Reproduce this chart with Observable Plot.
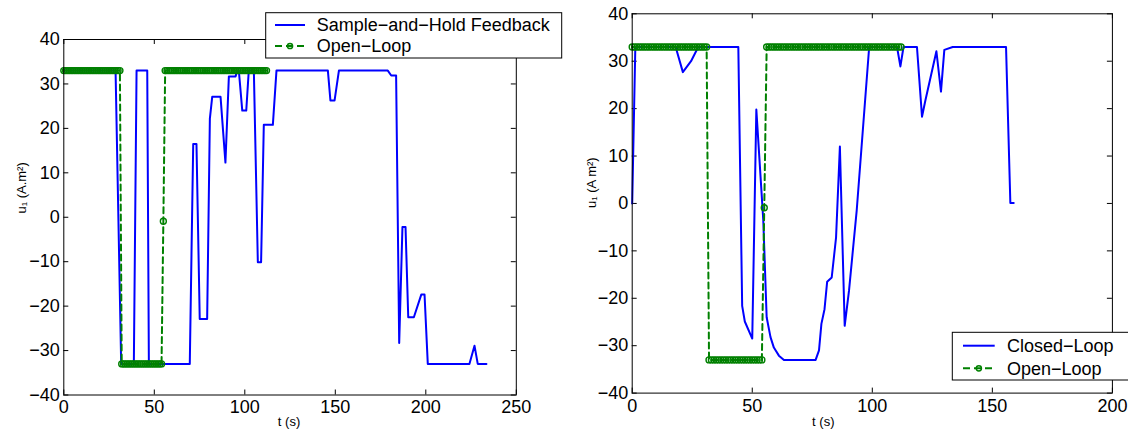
<!DOCTYPE html>
<html><head><meta charset="utf-8">
<script src="https://cdn.jsdelivr.net/npm/d3@7"></script>
<script src="https://cdn.jsdelivr.net/npm/@observablehq/plot@0.6"></script>
<style>
html,body{margin:0;padding:0;background:#fff;}
#wrap{position:relative;width:1128px;height:431px;overflow:hidden;}
#wrap svg{position:absolute;top:0;}
</style></head><body><div id="wrap"></div>
<script>
// ---------- data ----------
// Open-loop control (same in both panels), sampled every second
const olT = [0,1,2,3,4,5,6,7,8,9,10,11,12,13,14,15,16,17,18,19,20,21,22,23,24,25,26,27,28,29,30,31,32,33,34,35,36,37,38,39,40,41,42,43,44,45,46,47,48,49,50,51,52,53,54,55,56,57,58,59,60,61,62,63,64,65,66,67,68,69,70,71,72,73,74,75,76,77,78,79,80,81,82,83,84,85,86,87,88,89,90,91,92,93,94,95,96,97,98,99,100,101,102,103,104,105,106,107,108,109,110,111,112];
const olU = [
  33,33,33,33,33,33,33,33,33,33,
  33,33,33,33,33,33,33,33,33,33,
  33,33,33,33,33,33,33,33,33,33,
  33,33,-33,-33,-33,-33,-33,-33,-33,-33,
  -33,-33,-33,-33,-33,-33,-33,-33,-33,-33,
  -33,-33,-33,-33,-33,-0.9,33,33,33,33,
  33,33,33,33,33,33,33,33,33,33,
  33,33,33,33,33,33,33,33,33,33,
  33,33,33,33,33,33,33,33,33,33,
  33,33,33,33,33,33,33,33,33,33,
  33,33,33,33,33,33,33,33,33,33,
  33,33,33];

// Sample-and-Hold Feedback (left panel)
const shT = [0,28.6,31.7,38.7,40.2,46.1,47,69.6,71.5,73.3,75.1,79.2,80.7,82,86.6,89.3,91.2,94.9,95.8,96.7,98.6,100.8,102.2,105,107.2,109,110.5,115.5,117.5,145.9,147.3,149.6,152,179,180.9,183.6,185.3,187.1,188.8,190.3,193.4,197.5,199.3,201.1,224.1,226.9,228.7,233.5];
const shU = [33,33,-33,-33,33,33,-33,-33,16.5,16.5,-22.9,-22.9,22.2,27.1,27.1,12.3,31.7,31.7,33,33,24,24,33,33,-10.1,-10.1,20.8,20.8,33,33,26.3,26.3,33,33,31.9,31.9,-28.3,-2.2,-2.2,-22.5,-22.5,-17.4,-17.4,-33,-33,-28.9,-33,-33];

// Closed-Loop (right panel)
const clT = [0,1.3,18.1,21.1,24.5,27.5,44.2,45.8,46.9,50,51.7,54.6,56,57.6,59,61.1,63.2,76.4,77.8,78.8,80.1,81.2,83.1,84.9,86.5,88.5,90.3,93.5,98.7,110.3,111.7,113,118.6,120.7,122.1,126.7,128.6,130,133.5,155.7,157.5,158.9];
const clU = [0,33,33,27.7,30,33,33,-21.6,-24.9,-28.5,19.8,-3.6,-24,-28.2,-30.4,-32.1,-33,-33,-31,-25.4,-22.3,-16.5,-15.6,-7.2,12,-25.8,-18.4,-1.5,33,33,28.9,33,33,18.3,21.7,32.1,23.6,32.4,33,33,0.1,0.1];

const leftXTicks = [0,50,100,150,200,250];
const rightXTicks = [0,50,100,150,200];
const yTicks = [-40,-30,-20,-10,0,10,20,30,40];
const leftLegend = ["Sample\u2212and\u2212Hold Feedback","Open\u2212Loop"];
const rightLegend = ["Closed\u2212Loop","Open\u2212Loop"];
const xLabel = "t (s)";
const leftYLabel = "u\u2081 (A.m\u00b2)";
const rightYLabel = "u\u2081 (A m\u00b2)";

// ---------- style ----------
const FONT = "'Liberation Sans', Arial, Helvetica, sans-serif";
const BLUE = "#0000ff", GREEN = "#008000";

function panel(o) {
  const innerH = o.height - o.mt - o.mb;
  const innerW = o.width - o.ml - o.mr;
  const tk = 5;
  return Plot.plot({
    width: o.width, height: o.height,
    marginLeft: o.ml, marginRight: o.mr, marginTop: o.mt, marginBottom: o.mb,
    style: {fontFamily: FONT, fontSize: "18px", background: "white", color: "black"},
    x: {domain: o.xDomain},
    y: {domain: [-40, 40]},
    marks: [
      Plot.ruleX(o.xTicks, {x: d => d, insetTop: innerH - tk, stroke: "black"}),
      Plot.ruleX(o.xTicks, {x: d => d, insetBottom: innerH - tk, stroke: "black"}),
      Plot.ruleY(yTicks, {y: d => d, insetRight: innerW - tk, stroke: "black"}),
      Plot.ruleY(yTicks, {y: d => d, insetLeft: innerW - tk, stroke: "black"}),
      Plot.axisX({ticks: o.xTicks, tickSize: 0, tickPadding: o.xPad, label: null, fontSize: 18}),
      Plot.axisY({ticks: yTicks, tickSize: 0, tickPadding: 4, label: null, fontSize: 18}),
      Plot.line(o.blueT, {x: o.blueT, y: o.blueU, stroke: BLUE, strokeWidth: 2}),
      Plot.line(olT, {x: olT, y: olU, stroke: GREEN, strokeWidth: 2, strokeDasharray: "6,4"}),
      Plot.dot(olT, {x: olT, y: olU, r: 3, stroke: GREEN, strokeWidth: 1.4, fill: "none"}),
      Plot.frame({stroke: "black", strokeWidth: 1}),
      Plot.text([xLabel], {text: d => d, frameAnchor: "bottom", dy: o.xlDy, dx: o.xlDx, fontSize: 13}),
      Plot.text([o.yLabel], {text: d => d, frameAnchor: "left", rotate: -90, dx: o.ylDx, dy: o.ylDy, fontSize: 13})
    ]
  });
}

const wrap = document.getElementById("wrap");

const left = panel({width: 570, height: 431, ml: 63.3, mr: 54.2, mt: 39, mb: 36.5,
  xDomain: [0, 250], xTicks: leftXTicks, blueT: shT, blueU: shU, yLabel: leftYLabel,
  xPad: 5, xlDy: 30.5, xlDx: -1, ylDx: -41.6, ylDy: -3.7});
left.style.left = "0px";
wrap.appendChild(left);

const right = panel({width: 558, height: 431, ml: 61.7, mr: 16.1, mt: 13.3, mb: 38.4,
  xDomain: [0, 200], xTicks: rightXTicks, blueT: clT, blueU: clU, yLabel: rightYLabel,
  xPad: 6, xlDy: 32.4, xlDx: -49, ylDx: -40, ylDy: 4.5});
right.style.left = "570px";
wrap.appendChild(right);

// ---------- legends (overlay) ----------
const ov = d3.select(wrap).append("svg")
  .attr("width", 1128).attr("height", 431)
  .style("left", "0px").style("pointer-events", "none")
  .style("font-family", FONT).style("font-size", "18px");

function legend(L) {
  const g = ov.append("g");
  g.append("rect").attr("x", L.x).attr("y", L.y).attr("width", L.w).attr("height", L.h)
    .attr("fill", "white").attr("stroke", "black").attr("stroke-width", 1);
  // row 1: solid blue
  g.append("line").attr("x1", L.lx1).attr("x2", L.lx2).attr("y1", L.rows[0]).attr("y2", L.rows[0])
    .attr("stroke", BLUE).attr("stroke-width", 2);
  // row 2: dashed green with marker
  g.append("line").attr("x1", L.lx1).attr("x2", L.lx2).attr("y1", L.rows[1]).attr("y2", L.rows[1])
    .attr("stroke", GREEN).attr("stroke-width", 2).attr("stroke-dasharray", "7,4");
  g.append("circle").attr("cx", (L.lx1 + L.lx2) / 2).attr("cy", L.rows[1]).attr("r", 2.6)
    .attr("fill", "none").attr("stroke", GREEN).attr("stroke-width", 1.5);
  L.labels.forEach((t, i) => {
    g.append("text").attr("x", L.tx).attr("y", L.rows[i]).attr("dy", "0.35em")
      .attr("fill", "black").text(t);
  });
}
legend({x: 265.7, y: 12.7, w: 296, h: 45.3, rows: [25, 46], lx1: 275, lx2: 305, tx: 316.7, labels: leftLegend});
legend({x: 952.3, y: 332.3, w: 200, h: 47.7, rows: [345.7, 368.3], lx1: 963, lx2: 994.7, tx: 1007, labels: rightLegend});
</script>
</body></html>
